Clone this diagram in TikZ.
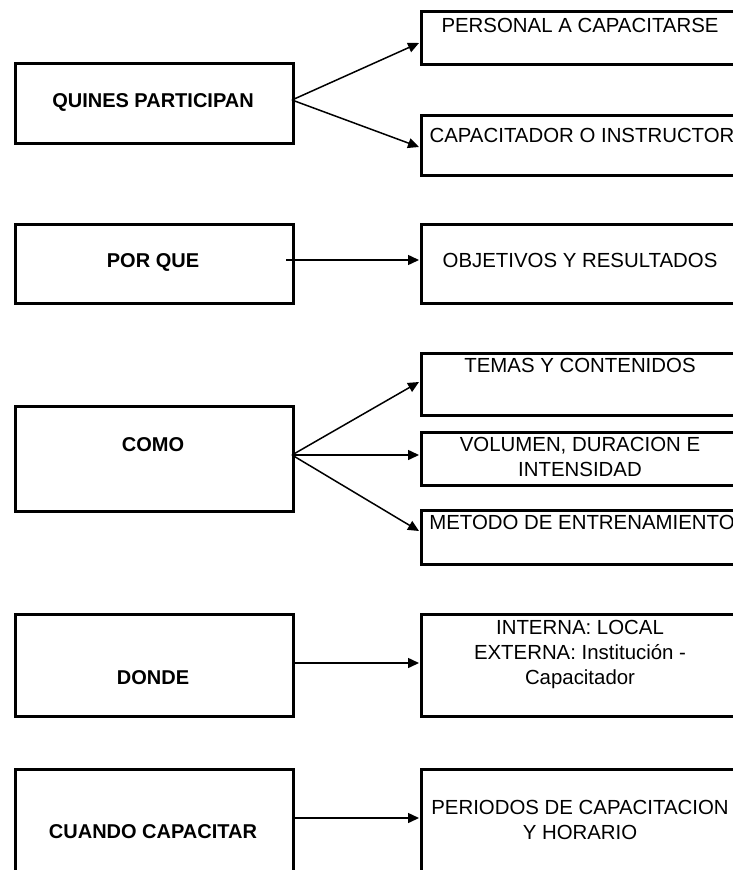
\documentclass[tikz,border=0pt]{standalone}
\usepackage{fontspec}
\setmainfont{Liberation Sans}
\usetikzlibrary{arrows.meta}
\begin{document}
\begin{tikzpicture}[x=1pt,y=-1pt,
  box/.style={draw, line width=2.6pt, rectangle, inner sep=0pt, anchor=north west},
  lbox/.style={box, minimum width=278pt},
  rbox/.style={box, minimum width=325pt},
  lbl/.style={font=\fontsize{20.4}{25}\selectfont, inner sep=0pt, align=center},
  blbl/.style={lbl, font=\fontsize{20}{25}\selectfont\bfseries},
  conn/.style={line width=1.5pt, -{Triangle[length=11pt,width=10pt]}}]
\useasboundingbox (0,0) rectangle (733,870);
\clip (0,0) rectangle (733,870);
% left boxes
\node[lbox, minimum height=80pt]  (qbox) at (14,62)  {};
\node[lbox, minimum height=79pt]  (pbox) at (14,223) {};
\node[lbox, minimum height=105pt] (cbox) at (14,405) {};
\node[lbox, minimum height=102pt] (dbox) at (14,613) {};
\node[lbox, minimum height=120pt] (wbox) at (14,768) {};
% right boxes
\node[rbox, minimum height=53pt]  (r1) at (420,10)  {};
\node[rbox, minimum height=60pt]  (r2) at (420,114) {};
\node[rbox, minimum height=79pt]  (r3) at (420,223) {};
\node[rbox, minimum height=62pt]  (r4) at (420,352) {};
\node[rbox, minimum height=53pt]  (r5) at (420,431) {};
\node[rbox, minimum height=54pt]  (r6) at (420,509) {};
\node[rbox, minimum height=102pt] (r7) at (420,613) {};
\node[rbox, minimum height=120pt] (r8) at (420,768) {};
% left labels
\node[blbl, anchor=base] (tq) at (153,107) {QUINES PARTICIPAN};
\node[blbl, anchor=base] (tp) at (153,267) {POR QUE};
\node[blbl, anchor=base] (tc) at (153,451) {COMO};
\node[blbl, anchor=base] (td) at (153,684) {DONDE};
\node[blbl, anchor=base] (tw) at (153,838) {CUANDO CAPACITAR};
% right labels
\node[lbl, anchor=base] (t1) at (580,32)  {PERSONAL A CAPACITARSE};
\node[lbl, anchor=base] (t2) at (582,142) {CAPACITADOR O INSTRUCTOR};
\node[lbl, anchor=base] (t3) at (580,267) {OBJETIVOS Y RESULTADOS};
\node[lbl, anchor=base] (t4) at (580,372) {TEMAS Y CONTENIDOS};
\node[lbl] (t5) at (580,457) {VOLUMEN, DURACION E\\INTENSIDAD};
\node[lbl, anchor=base] (t6) at (582,529) {METODO DE ENTRENAMIENTO};
\node[lbl] (t7) at (580,654) {INTERNA: LOCAL\\EXTERNA: Institución -\\Capacitador};
\node[lbl] (t8) at (580,820) {PERIODOS DE CAPACITACION\\Y HORARIO};
% connector end points
\coordinate (qo) at (292,100);
\coordinate (r1in) at (419,43);
\coordinate (r2in) at (419,147);
\coordinate (po) at (286,260);
\coordinate (r3in) at (419,260);
\coordinate (co) at (292,455);
\coordinate (r4in) at (419,382);
\coordinate (r5in) at (419,455);
\coordinate (r6in) at (419,531);
\coordinate (do) at (292,663);
\coordinate (r7in) at (419,663);
\coordinate (wo) at (292,818);
\coordinate (r8in) at (419,818);
% connectors
\draw[conn] (qo) -- (r1in);
\draw[conn] (qo) -- (r2in);
\draw[conn] (po) -- (r3in);
\draw[conn] (co) -- (r4in);
\draw[conn] (co) -- (r5in);
\draw[conn] (co) -- (r6in);
\draw[conn] (do) -- (r7in);
\draw[conn] (wo) -- (r8in);
\end{tikzpicture}
\end{document}
